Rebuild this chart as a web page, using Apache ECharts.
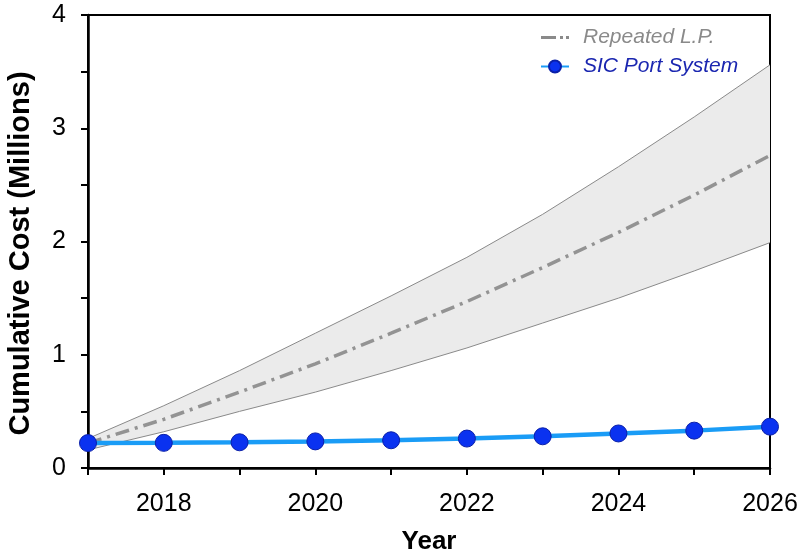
<!DOCTYPE html>
<html>
<head>
<meta charset="utf-8">
<script src="https://cdn.jsdelivr.net/npm/echarts@6/dist/echarts.min.js"></script>
<style>html,body{margin:0;padding:0;background:#fff}#c{width:800px;height:556px}</style>
</head>
<body>
<div id="c"></div>
<script>
var years = ['2017', '2018', '2019', '2020', '2021', '2022', '2023', '2024', '2025', '2026'];
var sicPort = [0.22, 0.222, 0.227, 0.235, 0.245, 0.26, 0.28, 0.305, 0.33, 0.365];
var lpMedian = [0.22, 0.43, 0.67, 0.92, 1.19, 1.47, 1.77, 2.08, 2.41, 2.76];
var lpUpper = [0.26, 0.55, 0.86, 1.19, 1.52, 1.86, 2.24, 2.66, 3.10, 3.56];
var lpLower = [0.16, 0.32, 0.50, 0.67, 0.86, 1.06, 1.28, 1.50, 1.74, 1.99];

var bandDiff = lpUpper.map(function (u, i) { return +(u - lpLower[i]).toFixed(3); });

var font = 'Liberation Sans, Arial, Helvetica, sans-serif';
var chart = echarts.init(document.getElementById('c'), null, { renderer: 'canvas' });
chart.setOption({
  animation: false,
  backgroundColor: '#fff',
  textStyle: { fontFamily: font },
  grid: { left: 88, right: 30, top: 15, bottom: 88, outerBoundsMode: 'none', containLabel: false, show: true, borderColor: '#000', borderWidth: 2, backgroundColor: 'transparent' },
  legend: {
    left: 535, top: 22, orient: 'vertical', itemGap: 8, itemWidth: 28, itemHeight: 15,
    textStyle: { fontSize: 21, fontStyle: 'italic', fontFamily: font, padding: [0, 0, 0, 9] },
    data: [
      { name: 'Repeated L.P.', icon: 'path://M0,0h15v3h-15z M19,0h3v3h-3z M25,0h3v3h-3z', itemStyle: { color: '#8a8a8a' }, textStyle: { color: '#8a8a8a' } },
      { name: 'SIC Port System', textStyle: { color: '#1a26b0' } }
    ]
  },
  xAxis: {
    type: 'category', data: years, boundaryGap: false,
    name: 'Year', nameLocation: 'middle', nameGap: 61,
    nameTextStyle: { fontSize: 26, fontWeight: 'bold', color: '#000', fontFamily: font },
    axisLine: { show: true, lineStyle: { color: '#000', width: 2.5 } },
    axisTick: { show: true, inside: false, length: 7, interval: 0, lineStyle: { color: '#000', width: 2 } },
    axisLabel: { fontSize: 25, color: '#000', margin: 24, interval: 0, formatter: function (v) { return Number(v) % 2 === 0 ? v : ''; } },
    splitLine: { show: false }
  },
  yAxis: {
    type: 'value', min: 0, max: 4, interval: 0.5,
    name: 'Cumulative Cost (Millions)', nameLocation: 'middle', nameGap: 53,
    nameTextStyle: { fontSize: 29, fontWeight: 'bold', color: '#000', fontFamily: font, padding: [0, 24, 0, 0] },
    axisLine: { show: true, lineStyle: { color: '#000', width: 2.5 } },
    axisTick: { show: true, inside: false, length: 7, lineStyle: { color: '#000', width: 2 } },
    axisLabel: { fontSize: 25, color: '#000', margin: 22, formatter: function (v) { return v % 1 === 0 ? String(v) : ''; } },
    splitLine: { show: false }
  },
  series: [
    {
      name: 'bandLower', type: 'line', stack: 'band', data: lpLower,
      symbol: 'none', lineStyle: { color: '#8a8a8a', width: 1 }, silent: true, z: 1
    },
    {
      name: 'bandUpper', type: 'line', stack: 'band', data: bandDiff,
      symbol: 'none', lineStyle: { color: '#8a8a8a', width: 1 },
      areaStyle: { color: '#ebebeb', opacity: 1 }, silent: true, z: 1
    },
    {
      name: 'Repeated L.P.', type: 'line', data: lpMedian, symbol: 'none',
      lineStyle: { color: '#939393', width: 3.5, type: [14, 6, 3, 6] },
      itemStyle: { color: '#939393' }, z: 3
    },
    {
      name: 'SIC Port System', type: 'line', data: sicPort, smooth: false,
      symbol: 'circle', symbolSize: 17,
      lineStyle: { color: '#1a9cf6', width: 4.5 },
      itemStyle: { color: '#0a32f0', borderColor: '#0a1fa8', borderWidth: 1 }, z: 4
    }
  ]
});
</script>
</body>
</html>
